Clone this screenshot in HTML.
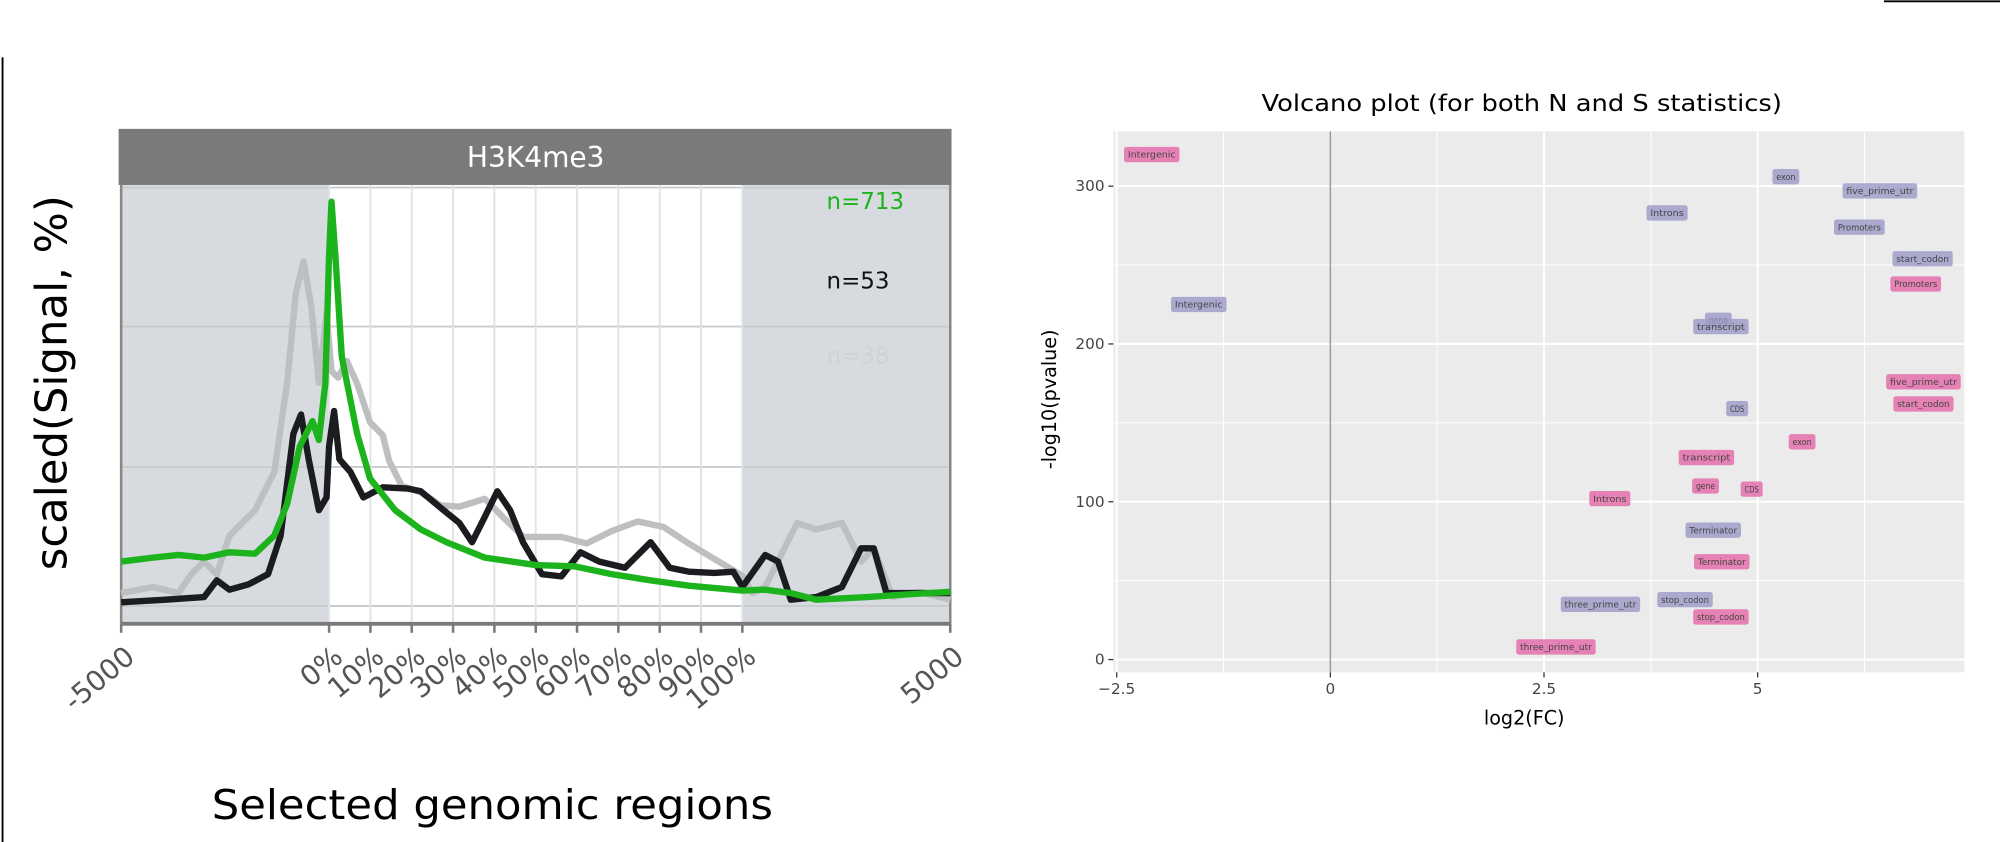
<!DOCTYPE html>
<html><head><meta charset="utf-8"><style>
html,body{margin:0;padding:0;background:#fff;}
svg{display:block;font-family:"DejaVu Sans","Liberation Sans",sans-serif;}
</style></head><body>
<svg id="fig" width="2000" height="842" viewBox="0 0 1568 660" preserveAspectRatio="none">
<line x1="2" y1="45" x2="2" y2="660" stroke="#000" stroke-width="1.5"/>
<line x1="1477" y1="1" x2="1568" y2="1" stroke="#000" stroke-width="1.5"/>
<g id="left"></g>
<g id="right"></g>
</svg>
<script>
// ---------- profile chart data ----------
const profTicks = ["-5000","0%","10%","20%","30%","40%","50%","60%","70%","80%","90%","100%","5000"];
const profTickPos = [0,100,110,120,130,140,150,160,170,180,190,200,300];
const greenX = [0,15.3,27.6,39.9,52.1,64.4,73.6,79.8,85.9,92.0,95.1,98.2,100,100.6,101.5,103.1,106.8,109.9,116.0,122.2,128.4,137.7,150,159.3,168.5,177.8,187,200,211,223.3,235.6,260.1,278.5,300];
const greenY = [14.2,15.1,15.7,15.1,16.3,16.0,20.1,27.3,40.4,46.2,41.9,54.9,84.0,96.2,84.0,60.8,43.3,33.1,25.9,21.5,18.6,15.1,13.4,13.1,11.3,9.9,8.7,7.6,7.8,7.0,5.5,6.1,6.7,7.3];
const blackX = [0,21.5,39.9,46,52.1,61.3,70.6,76.7,82.8,86.5,90.2,95.1,98.8,100,101.2,102.5,105.2,108.3,113,119.1,122.2,126.9,131.5,134.6,137.7,140.7,143.8,146.9,151.5,156.2,160.8,165.4,171.6,177.8,182.4,187,193.2,197.8,200,211,217.2,223.3,235.6,247.9,257.1,263.2,269.3,284.7,300];
const blackY = [4.9,5.5,6.1,9.9,7.8,9.0,11.3,20.1,43.3,47.7,37.5,25.9,28.8,40.4,48.5,37.5,34.6,28.8,31.1,30.8,30.2,26.5,23.0,18.6,24.4,30.2,25.9,18.6,11.3,10.8,16.3,14.2,12.8,18.6,12.8,11.9,11.6,11.9,8.4,15.7,14.2,5.5,6.1,8.4,17.2,17.2,7.0,7.0,7.0];
const grayX = [0,15.3,27.6,33.7,39.9,46,52.1,64.4,73.6,79.8,84.0,87.7,91.4,95.1,98.8,100.6,102.2,104.3,106.8,109.9,113,114.5,117.6,122.2,126.9,131.5,137.7,142.3,147,156.2,162.3,168.5,174.7,180.9,187,193.2,200,204.9,211,220.2,226.4,235.6,247.9,257.1,263.2,272.4,284.7,300];
const grayY = [7.0,8.4,7.0,11.3,14.2,11.3,20.1,25.9,34.6,54.9,75.3,82.6,72.4,54.9,70.9,57.6,56.1,59.9,54.7,45.9,43.0,37.2,31.4,30.0,27.0,26.7,28.5,24.1,19.8,19.8,18.3,21.2,23.3,22.1,18.3,14.8,11.0,7.0,8.4,17.2,23.0,21.5,23.0,14.2,17.2,6.1,7.3,5.5];
const nLabels = ["n=713","n=53","n=38"];
// ---------- volcano data ----------
const volXTicks = [-2.5,0,2.5,5];
const volYTicks = [0,100,200,300];
const sNames = ["Intergenic","Promoters","five_prime_utr","start_codon","exon","transcript","gene","CDS","Introns","Terminator","stop_codon","three_prime_utr"];
const sFC = [-2.09,6.85,6.94,6.94,5.52,4.40,4.39,4.93,3.27,4.58,4.57,2.64];
const sP = [320,238,176,162,138,128,110,108,102,62,27,8];
const nNames = ["exon","five_prime_utr","Introns","Promoters","start_codon","Intergenic","gene","transcript","CDS","Terminator","stop_codon","three_prime_utr"];
const nFC = [5.33,6.43,3.94,6.19,6.93,-1.54,4.54,4.57,4.76,4.48,4.15,3.16];
const nP = [306,297,283,274,254,225,215,211,159,82,38,35];

const NS="http://www.w3.org/2000/svg";
function mk(p,tag,attrs,name){const e=document.createElementNS(NS,tag);for(const k in attrs)e.setAttribute(k,attrs[k]);


p.appendChild(e);return e;}

// ---- left chart ----
const L=document.getElementById('left');
const PX0=95,PX1=745,PY0=145,PY1=489;
function px(u){ if(u<=100) return PX0+u*1.63; if(u<=200) return 258+(u-100)*3.24; return 582+(u-200)*1.63; }
function py(v){ return PY1-v*3.44; }
mk(L,'rect',{x:93,y:101,width:653,height:44,fill:'#7a7a7a'},'facet-strip');
const st=mk(L,'text',{x:420,y:131,'text-anchor':'middle',fill:'#fff','font-size':22},'facet-title');st.textContent='H3K4me3';
mk(L,'rect',{x:PX0,y:PY0,width:PX1-PX0,height:PY1-PY0,fill:'#fff'},'plot-background');
mk(L,'rect',{x:PX0,y:PY0,width:px(100)-PX0,height:PY1-PY0,fill:'#d7dbdf'},'upstream-shade');
mk(L,'rect',{x:px(200),y:PY0,width:PX1-px(200),height:PY1-PY0,fill:'#d7dbdf'},'downstream-shade');
[147,256,366,475].forEach(y=>mk(L,'line',{x1:PX0,x2:PX1,y1:y,y2:y,stroke:'#c9cccf','stroke-width':1.5},'h-gridline'));
profTickPos.slice(1,12).forEach(u=>mk(L,'line',{x1:px(u),x2:px(u),y1:PY0,y2:PY1,stroke:'#e2e2e2','stroke-width':1.5},'v-gridline'));
mk(L,'line',{x1:PX0,x2:PX0,y1:PY0,y2:PY1,stroke:'#888','stroke-width':2},'left-frame');
mk(L,'line',{x1:PX1,x2:PX1,y1:PY0,y2:PY1,stroke:'#888','stroke-width':2},'right-frame');
function series(xs,ys,col,name){let d='';xs.forEach((x,i)=>{d+=(i?'L':'M')+px(x).toFixed(1)+','+py(ys[i]).toFixed(1);});
mk(L,'path',{d:d,fill:'none',stroke:col,'stroke-width':5,'stroke-linejoin':'round'},name);}
series(grayX,grayY,'#bdbfc1','series-n38');
series(blackX,blackY,'#1a1c1f','series-n53');
series(greenX,greenY,'#1db31d','series-n713');
mk(L,'line',{x1:PX0,x2:PX1,y1:PY1,y2:PY1,stroke:'#7a7a7a','stroke-width':3},'x-axis-line');
profTickPos.forEach((u,i)=>{const x=px(u);
mk(L,'line',{x1:x,x2:x,y1:PY1,y2:PY1+7,stroke:'#7a7a7a','stroke-width':2},'x-tick');
const t=mk(L,'text',{x:x+12,y:PY1+28,'text-anchor':'end','font-size':22,fill:'#555',transform:`rotate(-40 ${x+12} ${PY1+28})`},'x-tick-label');t.textContent=profTicks[i];});
const ncol=['#1db31d','#111','#cfd1d3'],ny=[164,226,285];
nLabels.forEach((s,i)=>{const t=mk(L,'text',{x:648,y:ny[i],'font-size':18,fill:ncol[i]},'legend-label');t.textContent=s;});
let t=mk(L,'text',{x:52,y:300,'text-anchor':'middle','font-size':34,fill:'#000',transform:'rotate(-90 52 300)'},'y-axis-title');t.textContent='scaled(Signal, %)';
t=mk(L,'text',{x:386,y:642,'text-anchor':'middle','font-size':32,fill:'#000',textLength:440,lengthAdjust:'spacingAndGlyphs'},'x-axis-title');t.textContent='Selected genomic regions';

// ---- right chart ----
const R=document.getElementById('right');
const VX0=873,VX1=1540,VY0=103,VY1=527;
function vx(v){return 1043+v*67;}
function vy(v){return 517-v*1.237;}
mk(R,'rect',{x:VX0,y:VY0,width:VX1-VX0,height:VY1-VY0,fill:'#ebebeb'},'panel-background');
[-1.25,1.25,3.75,6.25].forEach(v=>mk(R,'line',{x1:vx(v),x2:vx(v),y1:VY0,y2:VY1,stroke:'#fff','stroke-width':0.8},'minor-v-gridline'));
[50,150,250].forEach(v=>mk(R,'line',{x1:VX0,x2:VX1,y1:vy(v),y2:vy(v),stroke:'#fff','stroke-width':0.8},'minor-h-gridline'));
volXTicks.forEach(v=>{mk(R,'line',{x1:vx(v),x2:vx(v),y1:VY0,y2:VY1,stroke:'#fff','stroke-width':1.6},'major-v-gridline');
mk(R,'line',{x1:vx(v),x2:vx(v),y1:VY1,y2:VY1+4,stroke:'#333','stroke-width':1},'x-tick');
const tt=mk(R,'text',{x:vx(v),y:VY1+17,'text-anchor':'middle','font-size':12,fill:'#444'},'x-tick-label');tt.textContent=v===-2.5?'\u22122.5':String(v);});
volYTicks.forEach(v=>{mk(R,'line',{x1:VX0,x2:VX1,y1:vy(v),y2:vy(v),stroke:'#fff','stroke-width':1.6},'major-h-gridline');
mk(R,'line',{x1:VX0-4,x2:VX0,y1:vy(v),y2:vy(v),stroke:'#333','stroke-width':1},'y-tick');
const tt=mk(R,'text',{x:VX0-7,y:vy(v)+4,'text-anchor':'end','font-size':12,fill:'#444'},'y-tick-label');tt.textContent=String(v);});
mk(R,'line',{x1:vx(0),x2:vx(0),y1:VY0,y2:VY1,stroke:'#999','stroke-width':1.2},'zero-line');
function lab(name,fc,p,fill,nm){const x=vx(fc),y=vy(p),tw=name.length*3.75,w=tw+6;
mk(R,'rect',{x:x-w/2,y:y-6,width:w,height:12,rx:2,fill:fill},nm+'-box');
const tt=mk(R,'text',{x:x,y:y+2.5,'text-anchor':'middle','font-size':7,fill:'#444',textLength:tw,lengthAdjust:'spacingAndGlyphs'},nm);tt.textContent=name;}
nNames.forEach((n,i)=>lab(n,nFC[i],nP[i],'rgba(160,157,200,0.85)','n-label'));
sNames.forEach((n,i)=>lab(n,sFC[i],sP[i],'rgba(228,110,170,0.85)','s-label'));
t=mk(R,'text',{x:1193,y:87,'text-anchor':'middle','font-size':18,fill:'#000',textLength:408,lengthAdjust:'spacingAndGlyphs'},'chart-title');t.textContent='Volcano plot (for both N and S statistics)';
t=mk(R,'text',{x:1195,y:568,'text-anchor':'middle','font-size':15,fill:'#000'},'x-axis-title');t.textContent='log2(FC)';
t=mk(R,'text',{x:828,y:313,'text-anchor':'middle','font-size':15,fill:'#000',transform:'rotate(-90 828 313)'},'y-axis-title');t.textContent='-log10(pvalue)';
</script>
</body></html>
